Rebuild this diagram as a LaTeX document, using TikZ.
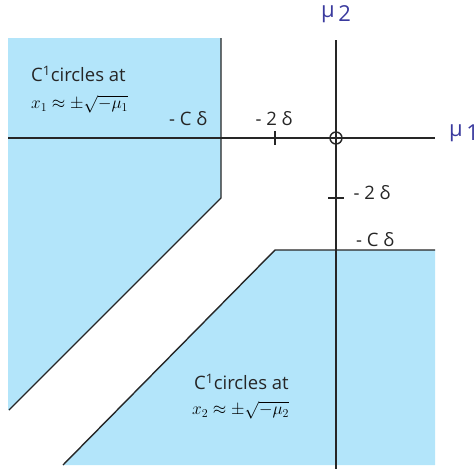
\documentclass[tikz,border=0pt]{standalone}
\usepackage{fontspec}
\setsansfont{Open Sans}
\usepackage{amsmath}
\usetikzlibrary{positioning}
\definecolor{regionblue}{RGB}{179,229,250}
\definecolor{axisblue}{RGB}{58,58,158}

\begin{document}
\begin{tikzpicture}[x=1pt,y=-1pt,
    axis/.style={line width=1.4pt, black!85},
    lbl/.style={font=\sffamily\fontsize{18.5}{20}\selectfont, text=black!85, inner sep=0pt},
    mathlbl/.style={font=\fontsize{16.5}{18}\selectfont, inner sep=0pt},
    axlbl/.style={font=\sffamily\fontsize{22}{24}\selectfont, text=axisblue, inner sep=0pt}]
    \useasboundingbox (0,0) rectangle (474,469);

    % shaded regions
    \fill[regionblue] (8,38) -- (221,38) -- (221,198) -- (9,410) -- (8,410) -- cycle;
    \fill[regionblue] (275,250) -- (435,250) -- (435,465) -- (63,465) -- cycle;

    % axes
    \coordinate (o) at (336,138);
    \coordinate (west) at (8,138);
    \coordinate (east) at (435,138);
    \coordinate (north) at (336,40);
    \coordinate (south) at (336,469);
    \draw[axis] (west) -- (east);
    \draw[axis] (north) -- (south);
    \draw[axis] (o) circle (6);
    \node[axlbl, anchor=west] (mu1) at (449,133) {μ\raisebox{-0.35ex}{\,1}};
    \node[axlbl] (mu2) at (336,14) {μ\raisebox{-0.35ex}{\,2}};

    % boundaries
    \draw[axis] (221,38) -- (221,198) -- (9,410);
    \draw[axis] (435,250) -- (275,250) -- (63,465);

    % ticks
    \draw[axis] (275,131) -- (275,145);
    \draw[axis] (328,198) -- (344,198);
    \node[lbl] (tx) at (274,119) {- 2 δ};
    \node[lbl] (ty) at (372,193) {- 2 δ};
    \node[lbl] (cx) at (188,119) {- C δ};
    \node[lbl] (cy) at (375,240) {- C δ};

    % region labels
    \node[lbl, anchor=west] (reg1) at (31,74) {C\textsuperscript{1}circles at};
    \node[mathlbl, anchor=west] (reg1m) at (31,104) {$x_1 \approx \pm\sqrt{-\mu_1}$};
    \node[lbl, anchor=west] (reg2) at (194,382) {C\textsuperscript{1}circles at};
    \node[mathlbl, anchor=west] (reg2m) at (192,410) {$x_2 \approx \pm\sqrt{-\mu_2}$};
\end{tikzpicture}
\end{document}
